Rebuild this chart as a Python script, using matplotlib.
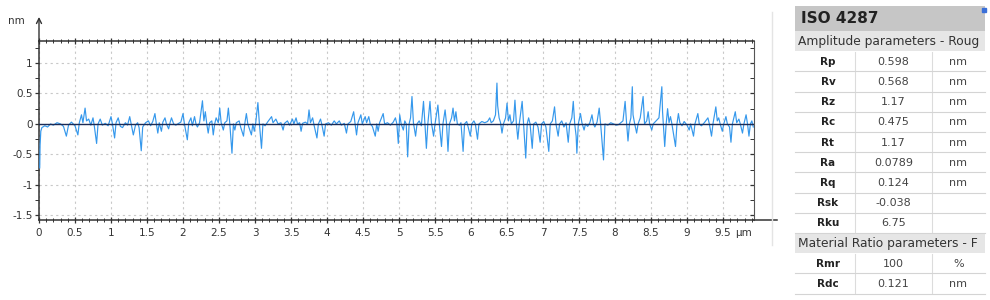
import matplotlib
matplotlib.use("Agg")
import matplotlib.pyplot as plt
from matplotlib.patches import Rectangle
from matplotlib.ticker import MultipleLocator, FixedLocator

# ---------------- data ----------------
profile_x = [
    0.01, 0.015, 0.025, 0.04, 0.08, 0.12, 0.16, 0.20, 0.25, 0.30, 0.34, 0.38, 0.41, 0.45, 0.50, 0.54, 0.56, 0.59, 0.61, 0.64,
    0.66, 0.69, 0.72, 0.75, 0.77, 0.80, 0.82, 0.85, 0.88, 0.92, 0.96, 1.00, 1.02, 1.05, 1.07, 1.10, 1.13, 1.16, 1.20, 1.23,
    1.26, 1.28, 1.31, 1.34, 1.37, 1.39, 1.42, 1.44, 1.48, 1.52, 1.55, 1.58, 1.61, 1.63, 1.65, 1.67, 1.70, 1.72, 1.75, 1.77,
    1.80, 1.82, 1.84, 1.87, 1.90, 1.94, 1.97, 2.00, 2.02, 2.06, 2.08, 2.11, 2.13, 2.16, 2.18, 2.20, 2.23, 2.27, 2.29, 2.31,
    2.33, 2.35, 2.37, 2.40, 2.42, 2.44, 2.46,
    2.49, 2.51, 2.53, 2.56, 2.58, 2.61, 2.63, 2.65, 2.68, 2.70, 2.72, 2.74, 2.78, 2.80, 2.84, 2.86, 2.88, 2.90, 2.95, 2.97,
    2.99, 3.01, 3.04, 3.06, 3.09, 3.11, 3.14, 3.18, 3.23, 3.25, 3.29, 3.32, 3.36, 3.39, 3.41, 3.45, 3.48, 3.52, 3.54, 3.57,
    3.59, 3.62, 3.64, 3.66, 3.70, 3.73, 3.75, 3.77, 3.80, 3.82, 3.86, 3.88, 3.91, 3.93, 3.96, 3.98, 4.02, 4.06, 4.10, 4.13,
    4.17, 4.20, 4.24, 4.27, 4.29, 4.33, 4.37, 4.39, 4.41, 4.43, 4.47, 4.49, 4.53, 4.55, 4.58, 4.60, 4.63, 4.67, 4.69, 4.71,
    4.73, 4.78, 4.80, 4.84, 4.88, 4.92, 4.95, 4.97, 4.99,
    5.01, 5.03, 5.06, 5.08, 5.10, 5.12, 5.14, 5.16, 5.18, 5.20, 5.23, 5.25, 5.28, 5.31, 5.34, 5.36, 5.38, 5.40, 5.43, 5.45,
    5.48, 5.50, 5.54, 5.56, 5.59, 5.61, 5.64, 5.66, 5.68, 5.70, 5.73, 5.75, 5.77, 5.79, 5.81, 5.84, 5.86, 5.89, 5.91, 5.94,
    5.96, 5.99, 6.01, 6.04, 6.06, 6.09, 6.11, 6.15, 6.19, 6.23, 6.26, 6.28, 6.31, 6.34, 6.36, 6.37, 6.39, 6.41, 6.43, 6.45,
    6.48, 6.50, 6.52, 6.54, 6.56, 6.59, 6.61, 6.63, 6.65, 6.67, 6.71, 6.73, 6.76, 6.78, 6.80, 6.82, 6.85, 6.87, 6.90, 6.93,
    6.96, 6.98, 7.01, 7.04, 7.08, 7.10, 7.13, 7.16, 7.18, 7.21, 7.23, 7.26, 7.29, 7.32, 7.35, 7.37, 7.40, 7.42, 7.44, 7.46,
    7.47, 7.49, 7.52, 7.54, 7.57, 7.59, 7.62, 7.65, 7.68, 7.70, 7.72, 7.75, 7.78, 7.80, 7.84, 7.86, 7.90, 7.94, 7.98, 8.02,
    8.05, 8.08, 8.11, 8.14, 8.16, 8.18, 8.20, 8.22, 8.24, 8.25, 8.27, 8.30, 8.32, 8.35, 8.39, 8.41, 8.44, 8.46, 8.48, 8.51,
    8.53, 8.57, 8.61, 8.65, 8.66, 8.67, 8.69, 8.71, 8.73, 8.75, 8.77, 8.79, 8.84, 8.86, 8.88, 8.90, 8.93, 8.96, 9.00, 9.03,
    9.05, 9.09, 9.11, 9.15, 9.17, 9.20, 9.24, 9.29, 9.31, 9.34, 9.36, 9.40, 9.42, 9.44, 9.46, 9.49, 9.51, 9.54, 9.56, 9.59,
    9.61, 9.63, 9.67, 9.69, 9.72, 9.74, 9.77, 9.79, 9.82, 9.84, 9.86, 9.88, 9.90, 9.92,
]
profile_y = [
    -0.72, -0.35, -0.12, -0.06, -0.03, -0.05, 0.00, -0.02, 0.02, 0.00, -0.04, -0.20, -0.02, 0.03, -0.03, -0.18, 0.02, 0.15, 0.02, 0.26,
    0.05, 0.08, -0.02, 0.10, -0.05, -0.32, 0.00, 0.08, -0.02, 0.01, -0.03, 0.12, 0.00, -0.23, 0.02, 0.10, -0.04, -0.06, 0.02, -0.02,
    0.12, 0.00, -0.18, -0.02, 0.02, -0.06, -0.44, -0.05, 0.02, 0.05, -0.03, 0.04, 0.17, 0.00, -0.15, 0.02, -0.12, 0.03, 0.10, 0.00,
    -0.08, 0.02, 0.10, 0.00, -0.02, 0.01, 0.03, 0.17, 0.00, -0.26, 0.02, 0.10, -0.03, 0.12, 0.00, -0.05, 0.02, 0.38, 0.05, 0.20,
    0.00, -0.15, 0.02, 0.05, -0.18, 0.00, 0.10,
    0.02, 0.26, 0.02, -0.10, 0.02, 0.05, 0.26, 0.00, -0.48, 0.00, -0.10, 0.02, 0.05, -0.05, -0.20, 0.02, 0.17, 0.00, -0.18, 0.00,
    -0.12, 0.02, 0.35, 0.02, -0.40, 0.00, -0.03, 0.04, 0.12, 0.02, 0.08, 0.00, 0.02, -0.10, 0.01, 0.05, -0.02, 0.08, 0.00, 0.10,
    0.00, 0.02, -0.12, 0.01, 0.03, 0.00, 0.23, 0.02, 0.10, -0.02, -0.23, 0.00, 0.08, -0.02, -0.20, 0.00, 0.02, -0.02, 0.05, 0.00,
    0.05, -0.02, 0.01, -0.15, 0.00, 0.04, 0.20, 0.00, -0.18, 0.02, 0.15, 0.00, 0.12, 0.02, 0.12, 0.00, -0.04, -0.20, 0.00, -0.12,
    0.02, 0.17, 0.00, 0.02, -0.02, 0.03, 0.10, 0.00, -0.32,
    0.15, 0.00, -0.10, 0.05, 0.00, -0.54, 0.00, 0.10, 0.45, 0.02, -0.20, 0.00, 0.05, -0.03, 0.37, 0.00, -0.40, 0.00, 0.37, 0.02,
    -0.20, 0.00, 0.31, 0.00, -0.37, 0.00, 0.23, 0.00, -0.45, 0.00, 0.10, 0.26, 0.05, 0.20, 0.00, -0.02, 0.02, -0.45, 0.00, 0.04,
    -0.05, -0.20, 0.00, 0.05, 0.00, -0.25, 0.00, 0.04, 0.02, 0.04, 0.10, 0.02, 0.05, 0.15, 0.67, 0.30, 0.10, 0.02, -0.15, 0.00,
    0.10, 0.34, 0.05, 0.15, 0.00, 0.05, 0.39, 0.00, -0.25, 0.00, 0.37, 0.00, -0.56, 0.00, 0.10, 0.00, -0.40, 0.00, 0.03, -0.05,
    -0.30, 0.00, 0.04, -0.05, -0.45, 0.00, 0.05, 0.28, 0.00, -0.20, 0.00, 0.05, -0.05, 0.02, -0.30, 0.00, 0.10, 0.37, 0.00, -0.20,
    -0.48, 0.00, 0.17, 0.02, -0.10, 0.00, -0.04, 0.02, 0.15, 0.00, -0.05, 0.03, 0.26, 0.00, -0.59, 0.00, -0.02, 0.02, 0.00, -0.02,
    -0.01, 0.02, 0.05, 0.37, 0.02, -0.28, 0.00, 0.10, 0.61, 0.15, 0.02, -0.15, 0.00, 0.10, 0.45, 0.00, 0.05, 0.20, 0.00, -0.10,
    0.00, 0.05, 0.10, 0.61, 0.20, 0.00, -0.37, 0.00, 0.25, 0.02, 0.12, 0.00, -0.37, 0.00, 0.17, 0.02, -0.03, 0.04, -0.02, -0.10,
    0.00, -0.20, 0.00, 0.17, 0.00, -0.03, 0.02, 0.10, 0.00, -0.20, 0.00, 0.28, 0.05, 0.10, 0.00, -0.12, 0.00, 0.12, 0.00, -0.05,
    -0.30, 0.00, 0.20, 0.02, 0.08, 0.00, -0.15, 0.00, 0.15, 0.00, -0.20, 0.00, 0.05, -0.05,
]

x_ticks = [0, 0.5, 1, 1.5, 2, 2.5, 3, 3.5, 4, 4.5, 5, 5.5, 6, 6.5, 7, 7.5, 8, 8.5, 9, 9.5]
x_tick_labels = ["0", "0.5", "1", "1.5", "2", "2.5", "3", "3.5", "4", "4.5",
                 "5", "5.5", "6", "6.5", "7", "7.5", "8", "8.5", "9", "9.5"]
y_ticks = [-1.5, -1, -0.5, 0, 0.5, 1]
y_tick_labels = ["-1.5", "-1", "-0.5", "0", "0.5", "1"]
x_unit = "µm"
y_unit = "nm"

table_title = "ISO 4287"
section1_title = "Amplitude parameters - Roug"
section1_names = ["Rp", "Rv", "Rz", "Rc", "Rt", "Ra", "Rq", "Rsk", "Rku"]
section1_values = ["0.598", "0.568", "1.17", "0.475", "1.17", "0.0789", "0.124", "-0.038", "6.75"]
section1_units = ["nm", "nm", "nm", "nm", "nm", "nm", "nm", "", ""]
section2_title = "Material Ratio parameters - F"
section2_names = ["Rmr", "Rdc"]
section2_values = ["100", "0.121"]
section2_units = ["%", "nm"]

# ---------------- figure ----------------
W, H = 990, 300
fig = plt.figure(figsize=(W / 100, H / 100), dpi=100)
fig.patch.set_facecolor("white")

ax = fig.add_axes([39 / W, 80 / H, 715 / W, 179 / H])
ax.set_xlim(0, 9.93)
ax.set_ylim(-1.575, 1.36)

ax.plot(profile_x, profile_y, color="#3598ec", lw=0.85, zorder=3, clip_on=True)
ax.axhline(0, color="#1c2b55", lw=1.0, zorder=4)

ax.xaxis.set_major_locator(FixedLocator(x_ticks))
ax.set_xticklabels(x_tick_labels)
ax.yaxis.set_major_locator(FixedLocator(y_ticks))
ax.set_yticklabels(y_tick_labels)
ax.xaxis.set_minor_locator(MultipleLocator(0.1))
ax.yaxis.set_minor_locator(MultipleLocator(0.25))

ax.grid(True, which="major", color="#c8c8c8", linestyle=(0, (2, 3)), lw=0.8, zorder=1)

for s in ["left", "bottom", "top"]:
    ax.spines[s].set_color("#333333")
    ax.spines[s].set_linewidth(1.1)
ax.spines["right"].set_color("#555555")
ax.spines["right"].set_linewidth(0.8)

ax.tick_params(axis="x", which="major", direction="inout", length=5, width=0.9,
               color="#333333", labelsize=7.5, labelcolor="#333333", pad=3,
               top=True)
ax.tick_params(axis="x", which="minor", direction="inout", length=3, width=0.7,
               color="#333333", top=True)
ax.tick_params(axis="y", which="major", direction="out", length=3, width=0.9,
               color="#333333", labelsize=7.5, labelcolor="#333333", pad=1.5,
               right=True)
ax.tick_params(axis="y", which="minor", direction="out", length=3, width=0.7,
               color="#333333", right=True)
# right side ticks point inward
for t in ax.yaxis.get_major_ticks() + ax.yaxis.get_minor_ticks():
    t.tick2line.set_marker(matplotlib.lines.TICKLEFT)
    t.tick2line.set_markersize(3)

# y-axis arrow and unit label
ax.annotate("", xy=(0, 1.80), xytext=(0, 1.30), xycoords="data",
            arrowprops=dict(arrowstyle="->", color="#333333", lw=1.0,
                            mutation_scale=9), annotation_clip=False)
ax.text(-0.2, 1.68, y_unit, fontsize=7.5, color="#333333", ha="right", va="center",
        clip_on=False)
# bottom axis extension line
ax.plot([9.93, 10.25], [-1.575, -1.575], color="#333333", lw=1.1, clip_on=False)

# ---------------- table ----------------
tab = fig.add_axes([0, 0, 1, 1], facecolor="none")
tab.set_xlim(0, W)
tab.set_ylim(H, 0)
tab.axis("off")

# x unit next to the last tick label
tab.text(744, 232.5, x_unit, fontsize=7.5, color="#333333", ha="center", va="center")

# faint separator
tab.plot([772, 772], [12, 245], color="#e4e4e4", lw=1.0)

L, R = 795, 985
c1, c2 = 855, 932
tab.add_patch(Rectangle((L, 6), R - L, 25, facecolor="#c6c6c6", edgecolor="none"))
tab.text(L + 6, 18.5, table_title, fontsize=11, fontweight="bold", color="#222222",
         ha="left", va="center")
tab.plot([983.5], [9.5], marker="s", ms=3.5, color="#3a6fd8")

pitch = 20.2
y0 = 31


def section_header(top, text):
    rect = Rectangle((L, top), R - L, pitch, facecolor="#e6e6e6", edgecolor="none")
    tab.add_patch(rect)
    tab.text(L + 3, top + pitch / 2 + 0.5, text, fontsize=8.8, color="#333333",
             ha="left", va="center")


def param_row(top, name, value, unit):
    cy = top + pitch / 2 + 0.5
    tab.text((L + c1) / 2 + 3, cy, name, fontsize=7.5, fontweight="bold",
             color="#222222", ha="center", va="center")
    tab.text((c1 + c2) / 2, cy, value, fontsize=8, color="#444444",
             ha="center", va="center")
    tab.text((c2 + R) / 2, cy, unit, fontsize=8, color="#444444",
             ha="center", va="center")
    tab.plot([L, R], [top + pitch, top + pitch], color="#d4d4d4", lw=0.8)
    tab.plot([c1, c1], [top + 1, top + pitch - 1], color="#dcdcdc", lw=0.8)
    tab.plot([c2, c2], [top + 1, top + pitch - 1], color="#dcdcdc", lw=0.8)


section_header(y0, section1_title)
top = y0 + pitch
for n, v, u in zip(section1_names, section1_values, section1_units):
    param_row(top, n, v, u)
    top += pitch
section_header(top, section2_title)
top += pitch
for n, v, u in zip(section2_names, section2_values, section2_units):
    param_row(top, n, v, u)
    top += pitch

fig.savefig("out.png", dpi=100)
